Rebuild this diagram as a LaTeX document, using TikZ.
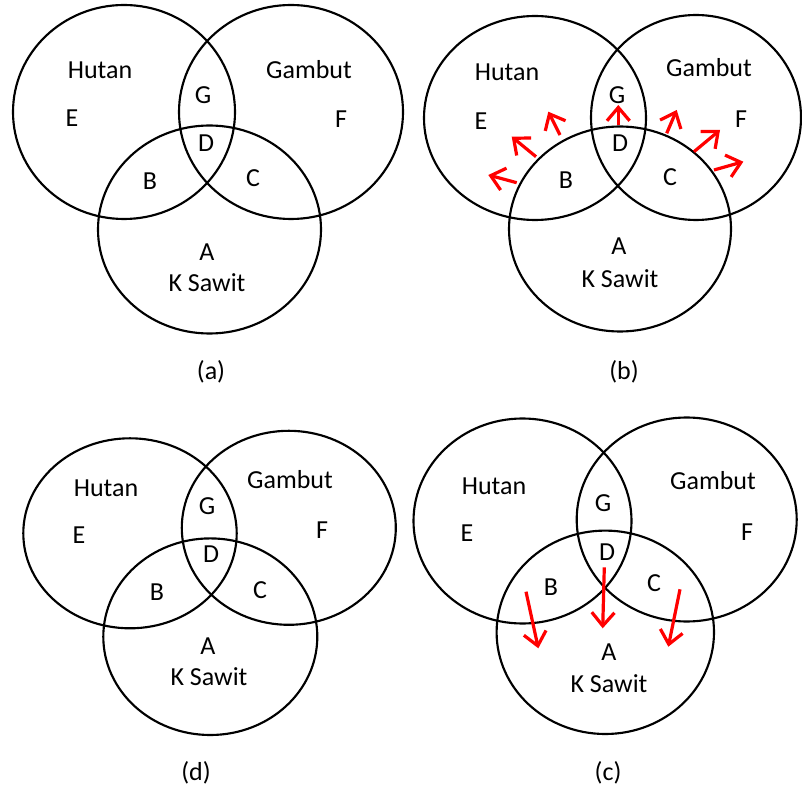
\documentclass[tikz,border=0pt]{standalone}
\usepackage{fontspec}
\setmainfont{Carlito}
\usetikzlibrary{arrows.meta,shapes.geometric}
\tikzset{
  setline/.style={draw=black,line width=1.6pt},
  lbl/.style={anchor=base,inner sep=0pt,font=\fontsize{19.5}{23}\selectfont},
  captxt/.style={anchor=base,inner sep=0pt,font=\fontsize{19.5}{23}\selectfont},
  flow/.style={draw=red,line width=2.4pt,-{Straight Barb[length=10pt,width=17pt]}}
}
\begin{document}
\begin{tikzpicture}[x=0.75pt,y=-0.75pt]
\useasboundingbox (0,0) rectangle (802,787);
% ---------- panel (a)
\draw[setline] (124,112) ellipse [x radius=111, y radius=107];
\draw[setline] (291,112) ellipse [x radius=112, y radius=107];
\draw[setline] (209.5,229.5) ellipse [x radius=111.5, y radius=104];
\node[lbl] (aH) at (100,79) {Hutan};
\node[lbl] (aE) at (72,127) {E};
\node[lbl] (aGm) at (309,79) {Gambut};
\node[lbl] (aF) at (341,128) {F};
\node[lbl] (aG) at (203,104) {G};
\node[lbl] (aD) at (206,152) {D};
\node[lbl] (aB) at (150,190) {B};
\node[lbl] (aC) at (253,187) {C};
\node[lbl] (aA) at (207,261) {A};
\node[lbl] (aK) at (207,292) {K Sawit};
\node[captxt] (acap) at (211,379) {(a)};
% ---------- panel (b)
\draw[setline] (535,118) ellipse [x radius=111, y radius=102];
\draw[setline] (696,117.5) ellipse [x radius=105, y radius=102.5];
\draw[setline] (620,229) ellipse [x radius=111, y radius=102.5];
\node[lbl] (bH) at (507,81) {Hutan};
\node[lbl] (bE) at (481,130) {E};
\node[lbl] (bGm) at (709,77) {Gambut};
\node[lbl] (bF) at (741,128) {F};
\node[lbl] (bG) at (617,104) {G};
\node[lbl] (bD) at (620,152) {D};
\node[lbl] (bB) at (566,189) {B};
\node[lbl] (bC) at (670,186) {C};
\node[lbl] (bA) at (619,255) {A};
\node[lbl] (bK) at (620,288) {K Sawit};
\node[captxt] (bcap) at (624,379) {(b)};
\draw[flow] (516.7,182.7) -- (488.3,175);
\draw[flow] (536,156.7) -- (511.7,136.7);
\draw[flow] (560,135) -- (548.3,111.7);
\draw[flow] (618.3,125) -- (618.3,105);
\draw[flow] (666.7,133.3) -- (676.7,110);
\draw[flow] (694,151.7) -- (720,130);
\draw[flow] (714,170) -- (743.3,161.7);
% ---------- panel (d)
\draw[setline] (130,533.3) ellipse [x radius=106.7, y radius=95];
\draw[setline] (288.8,527.8) ellipse [x radius=107, y radius=97];
\draw[setline] (210.3,636.7) ellipse [x radius=107, y radius=98.3];
\node[lbl] (dH) at (106,496) {Hutan};
\node[lbl] (dE) at (79,543) {E};
\node[lbl] (dGm) at (290,488) {Gambut};
\node[lbl] (dF) at (322,538) {F};
\node[lbl] (dG) at (207,514) {G};
\node[lbl] (dD) at (211,562) {D};
\node[lbl] (dB) at (157,600) {B};
\node[lbl] (dC) at (260,598) {C};
\node[lbl] (dA) at (208,654) {A};
\node[lbl] (dK) at (209,685) {K Sawit};
\node[captxt] (dcap) at (196,780) {(d)};
% ---------- panel (c)
\draw[setline] (522.5,521) ellipse [x radius=109, y radius=102.5];
\draw[setline] (686.7,519.5) ellipse [x radius=110, y radius=102];
\draw[setline] (605.3,632.3) ellipse [x radius=108.7, y radius=101.7];
\node[lbl] (cH) at (494,494) {Hutan};
\node[lbl] (cE) at (467,541) {E};
\node[lbl] (cGm) at (713,489) {Gambut};
\node[lbl] (cF) at (747,540) {F};
\node[lbl] (cG) at (603,511) {G};
\node[lbl] (cD) at (607,560) {D};
\node[lbl] (cB) at (551,595) {B};
\node[lbl] (cC) at (654,591) {C};
\node[lbl] (cA) at (609,660) {A};
\node[lbl] (cK) at (609,692) {K Sawit};
\node[captxt] (ccap) at (608,780) {(c)};
\draw[flow] (526,591.7) -- (538.3,648.3);
\draw[flow] (604.3,567.3) -- (602.7,628.3);
\draw[flow] (680,589.3) -- (668.3,646.7);
\end{tikzpicture}
\end{document}
